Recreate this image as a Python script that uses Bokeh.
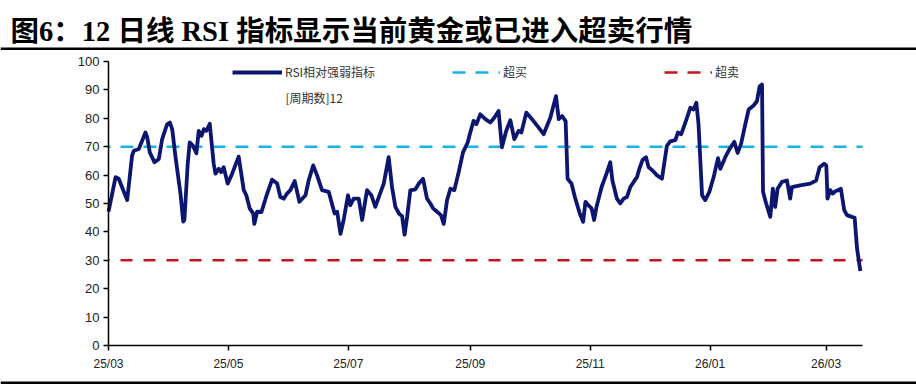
from bokeh.plotting import figure
from bokeh.models import Range1d, FixedTicker, Label, BoxAnnotation, Legend, LegendItem
from bokeh.embed import file_html
from bokeh.resources import INLINE

# ---------------- data ----------------
title_text = "图6：12 日线 RSI 指标显示当前黄金或已进入超卖行情"
source_text = "资料来源：Wind，国泰海通证券研究"
series_name = "RSI相对强弱指标"
series_note = "[周期数]12"
ob_name = "超买"
os_name = "超卖"
ob_level = 70
os_level = 30

# x = days since 2025-03-01
tick_days = [0, 61, 122, 184, 245, 306, 365]
tick_labels = ["25/03", "25/05", "25/07", "25/09", "25/11", "26/01", "26/03"]
y_ticks = [0, 10, 20, 30, 40, 50, 60, 70, 80, 90, 100]

days = [0, 3.6, 5.2, 9.5, 12, 12.9, 15.4, 17.1, 18.8, 19.7, 21, 23.4, 25.6, 27.3, 29.8,
        31.2, 32.4, 34.1, 36.6, 38, 38.6, 40.3, 41.3, 43, 44.7, 45.9, 47.3, 48.5, 49.8,
        51.5, 53.5, 54.4, 56.1, 57.3, 58.6, 60.6, 62.9, 66.2, 68.8, 70.1, 71.8, 73.6,
        74.2, 75.6, 77.8, 80.7, 83.2, 85.8, 87.4, 89.1, 90.8, 92.5, 94.7, 97.1, 100.2,
        101.8, 104.1, 106.1, 108.6, 112, 115, 116.3, 118, 119.6, 121.8, 123, 124.7,
        127.3, 129, 131.5, 133.7, 135.7, 137.8, 140, 142.5, 144.2, 145.9, 147.9, 149.3,
        150.6, 151.9, 153.5, 156.1, 157.8, 160, 162, 163.7, 165.1, 167.1, 169.1, 170.5,
        172.2, 173.9, 175.9, 178.1, 180.3, 182.7, 184, 185.7, 187.1, 189.1, 191.7, 194.2,
        196.2, 198.4, 200.1, 202.3, 204.4, 206.4, 208.6, 210, 212.5, 215.4, 218.8, 221.3,
        224.7, 227.6, 229, 230.7, 232.5, 233.5, 235.5, 237.2, 239.7, 241.4, 242.6, 244,
        245.7, 247, 248.2, 250.8, 253.3, 255.2, 256.3, 258.6, 260.3, 262, 263.7, 265.4,
        267.1, 268.8, 270, 271.6, 273.4, 274.7, 276.7, 279, 281.5, 284, 285.7, 288.3,
        289.6, 291.3, 293.7, 295.9, 297.6, 299, 300.1, 301.9, 303.5, 305.6, 307.8, 310,
        311.2, 313.7, 315.9, 318.3, 320, 321.7, 323.9, 325.6, 328.1, 329.8, 331.2, 332.4,
        332.9, 334.5, 336.6, 337.9, 339.1, 340.3, 342.5, 345.1, 346.7, 347.6, 351.8,
        356.9, 359.9, 361.7, 364, 365.1, 365.7, 367.1, 368.4, 369.6, 371.3, 372.5, 374.2,
        375.6, 378.1, 379.5, 380.7, 382.4]
rsi = [47.1, 59.3, 58.7, 51.2, 66.9, 68.6, 69.2, 72.1, 75, 73.3, 68, 64.5, 65.7, 72.7, 77.9,
       78.5, 76.2, 66.3, 53.5, 43.6, 44.2, 64, 71.5, 70.3, 67.7, 75.6, 73.8, 76.2, 75.6,
       78.1, 64, 60.5, 62.2, 61, 62.8, 57, 60.5, 66.5, 54.7, 52.9, 48.3, 46.5,
       42.8, 47.1, 47.0, 53.5, 58.4, 57, 52.3, 51.7, 53.5, 54.7, 57.9, 50.6, 52.9,
       58.1, 63.4, 59.9, 54.7, 54.1, 46.5, 47.1, 39.3, 44.2, 52.9, 49.4, 51.7,
       51.7, 44.2, 54.7, 52.9, 48.8, 52.9, 57, 66.3, 55.8, 48.8, 46.3, 45.6,
       39, 45.3, 54.6, 55, 57, 58.7, 51.7, 50, 48.3, 47.1, 45.9, 42.8,
       51.2, 55.2, 54.7, 61, 68, 71.5, 75, 79.1, 77.9, 81.4, 79.7, 78.5,
       80.2, 82.6, 69.8, 75.6, 79.3, 72.7, 75.6, 75, 82, 79.7, 76.7, 74.4,
       80.2, 87.8, 79.7, 80.8, 79, 58.7, 57, 52.3, 46.5, 43.6, 50.6, 49.4,
       48.3, 44.2, 48.8, 55.8, 60.5, 64.5, 58.1, 51.7, 50, 51.7, 52.3, 55.8,
       57.6, 59.3, 62.2, 65.3, 66.3, 62.8, 61.6, 59.9, 58.7, 70.3, 71.9, 72.3,
       75, 74.4, 79.1, 83.7, 83.1, 85.5, 77.9, 52.9, 51.2, 54.1, 59.3, 66,
       62.2, 66.3, 69.2, 71.7, 67.8, 70.9, 77.9, 83.1, 84.5, 86, 91.3, 91.9,
       54.1, 50, 45.3, 55.2, 48.8, 55.2, 57.6, 58.1, 51.7, 55.8, 56.4,
       57, 58.1, 62.8, 64, 63.4, 51.7, 54.7, 53.5, 54.3, 54.7, 55.2, 47.7,
       45.9, 45.3, 45, 34.3, 26.2]

# ---------------- layout geometry (pixels) ----------------
W, H = 916, 390
AX_LEFT, AX_RIGHT = 108, 862     # x-axis span on the canvas
AX_TOP, AX_BOTTOM = 61, 345      # y = 100 and y = 0 on the canvas
x_end = 383.5                    # last day on the x-axis
y_max = 100

kx = (AX_RIGHT - AX_LEFT) / x_end
ky = (AX_BOTTOM - AX_TOP) / y_max
x_rng = Range1d(-AX_LEFT / kx, x_end + (W - AX_RIGHT) / kx)
y_rng = Range1d(-(H - AX_BOTTOM) / ky, y_max + AX_TOP / ky)

# ---------------- styles ----------------
NAVY = "#0c1670"
CYAN = "#19b4e6"
RED = "#c4161c"
CJK = "'Noto Sans CJK SC'"
LAT = "'Liberation Sans'"

p = figure(width=W, height=H, output_backend="svg", toolbar_location=None, title=None,
           x_range=x_rng, y_range=y_rng, min_border=0)
p.background_fill_color = "white"
p.border_fill_color = "white"
p.outline_line_color = None
p.xgrid.visible = False
p.ygrid.visible = False

# reference lines
p.line([0, x_end], [ob_level, ob_level], line_color=CYAN, line_width=2.5,
       line_dash="13 10", line_dash_offset=11)
p.line([0, x_end], [os_level, os_level], line_color=RED, line_width=2.5,
       line_dash="12 11", line_dash_offset=11)
# hidden copies used only for the legend swatches (dash phase starting with a dash)
lg_ob = p.line([0, x_end], [ob_level, ob_level], line_color=CYAN, line_width=2.5,
               line_dash="13 10", visible=False)
lg_os = p.line([0, x_end], [os_level, os_level], line_color=RED, line_width=2.5,
               line_dash="13 10", visible=False)

# RSI line
r_rsi = p.line(days, rsi, line_color=NAVY, line_width=3.8, line_join="round")

# axes drawn at data 0, spanning only the data region
xa, ya = p.xaxis[0], p.yaxis[0]
xa.fixed_location = 0
xa.bounds = (0, x_end)
ya.fixed_location = 0
ya.bounds = (0, y_max)
for ax in (xa, ya):
    ax.axis_line_color = "black"
    ax.axis_line_width = 1.5
    ax.major_tick_line_color = "black"
    ax.major_tick_line_width = 1.5
    ax.major_tick_out = 5
    ax.major_tick_in = 0
    ax.minor_tick_line_color = None
    ax.major_label_text_font = LAT
    ax.major_label_text_color = "#222222"

ya.ticker = FixedTicker(ticks=y_ticks)
ya.major_label_text_font_size = "13px"
ya.major_label_standoff = 4

xa.ticker = FixedTicker(ticks=tick_days)
xa.major_label_overrides = {d: s for d, s in zip(tick_days, tick_labels)}
xa.major_label_text_font_size = "12px"
xa.major_label_standoff = 6


def make_legend(label, rend, loc, gw):
    return Legend(items=[LegendItem(label=label, renderers=[rend])], location=loc,
                  orientation="horizontal", border_line_alpha=0, background_fill_alpha=0,
                  inactive_fill_alpha=0, padding=0, margin=0, spacing=0,
                  glyph_width=gw, glyph_height=14, label_height=14, label_standoff=3,
                  label_text_font=CJK, label_text_font_size="12px",
                  label_text_color="#333333")


# legend rows (screen units from the canvas bottom-left)
p.add_layout(make_legend(series_name, r_rsi, (232, 310), 50))
p.add_layout(make_legend(ob_name, lg_ob, (452, 310), 48))
p.add_layout(make_legend(os_name, lg_os, (664, 310), 48))
p.add_layout(Label(x=285, y=H - 97, x_units="screen", y_units="screen", text=series_note,
                   text_font=CJK, text_font_size="12px", text_color="#333333",
                   text_baseline="middle"))

# title, rules and source line
p.add_layout(Label(x=10, y=H - 31, x_units="screen", y_units="screen", text=title_text,
                   text_font="'Liberation Serif', 'Noto Sans CJK SC'",
                   text_font_size="28.5px", text_font_style="bold", text_color="black",
                   text_baseline="middle"))
p.add_layout(BoxAnnotation(left=0, right=W, bottom=H - 49.5, top=H - 47,
                           left_units="screen", right_units="screen",
                           bottom_units="screen", top_units="screen",
                           fill_color="black", fill_alpha=1, line_alpha=0))
p.add_layout(BoxAnnotation(left=0, right=W, bottom=H - 383.5, top=H - 381,
                           left_units="screen", right_units="screen",
                           bottom_units="screen", top_units="screen",
                           fill_color="black", fill_alpha=1, line_alpha=0))
p.add_layout(Label(x=8, y=H - 384, x_units="screen", y_units="screen", text=source_text,
                   text_font=CJK, text_font_size="17px", text_font_style="bold",
                   text_color="black", text_baseline="top"))

open("out.html", "w").write(file_html(p, INLINE))
